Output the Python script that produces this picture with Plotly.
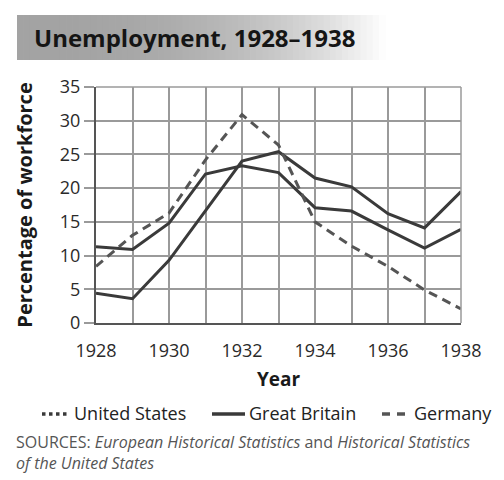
import plotly.graph_objects as go

years = [1928, 1929, 1930, 1931, 1932, 1933, 1934, 1935, 1936, 1937, 1938]
united_states = [4.4, 3.6, 9.3, 16.6, 24.0, 25.4, 21.5, 20.2, 16.2, 14.1, 19.5]
great_britain = [11.3, 10.9, 14.8, 22.1, 23.3, 22.3, 17.1, 16.6, 13.8, 11.1, 13.9]
germany = [8.4, 13.0, 16.3, 24.2, 30.9, 26.4, 15.0, 11.4, 8.4, 4.9, 2.1]

series_names = ["United States", "Great Britain", "Germany"]

# la page ajoute une marge de 8 px autour de la figure
OFF = 8
W, H = 504 - OFF, 480 - OFF
L, T = 96 - OFF, 87 - OFF
R, B = W - (461 - OFF), H - (323 - OFF)
pw, ph = W - L - R, H - T - B

def px(x):
    return (x - OFF - L) / pw

def py(y):
    return 1 - (y - OFF - T) / ph

FONT = "Open Sans"
line_col = "#3a3a3a"
ger_col = "#555555"
ger_dash = "9px,6px"

fig = go.Figure()

# US en trait plein dans le graphe, pointillé seulement dans la légende
fig.add_trace(go.Scatter(x=years, y=united_states, mode="lines", showlegend=False,
                         line=dict(color=line_col, width=3)))
fig.add_trace(go.Scatter(x=years, y=great_britain, mode="lines", showlegend=False,
                         line=dict(color=line_col, width=3)))
fig.add_trace(go.Scatter(x=years, y=germany, mode="lines", showlegend=False,
                         line=dict(color=ger_col, width=3, dash=ger_dash)))

# bandeau du titre en dégradé
x0, x1 = 17, 385
n = 60
for i in range(n):
    a = x0 + (x1 - x0) * i / n
    b = x0 + (x1 - x0) * (i + 1) / n
    t = (i + 0.5) / n
    c = int(163 + 92 * t ** 2.5)
    fig.add_shape(type="rect", xref="paper", yref="paper",
                  x0=px(a), x1=px(b) + 0.002, y0=py(60), y1=py(15),
                  fillcolor=f"rgb({c},{c},{c})", line=dict(width=0), layer="below")

fig.add_annotation(text="<b>Unemployment, 1928–1938</b>", xref="paper", yref="paper",
                   x=px(32), y=py(38), xanchor="left", yanchor="middle", showarrow=False,
                   font=dict(family=FONT, size=24, color="#151515"))

# légende faite à la main
leg_y = 413
leg_items = [
    (42, 70, dict(color=line_col, width=3.5, dash="dot")),
    (212, 245, dict(color=line_col, width=3.5)),
    (382, 410, dict(color=ger_col, width=3.5, dash="8px,7px")),
]
for name, (a, b, ln) in zip(series_names, leg_items):
    fig.add_shape(type="line", xref="paper", yref="paper",
                  x0=px(a), x1=px(b), y0=py(leg_y + 1), y1=py(leg_y + 1), line=ln)
    fig.add_annotation(text=name, xref="paper", yref="paper", x=px(b + 2), y=py(leg_y),
                       xanchor="left", yanchor="middle", showarrow=False,
                       font=dict(family=FONT, size=18, color="#222222"))

fig.add_annotation(text="SOURCES: <i>European Historical Statistics</i> and <i>Historical Statistics</i>"
                        "<br><i>of the United States</i>",
                   xref="paper", yref="paper", x=px(15), y=py(430), xanchor="left", yanchor="top",
                   align="left", showarrow=False, borderpad=0,
                   font=dict(family=FONT, size=16, color="#555555"))

fig.update_xaxes(range=[1928, 1938], tickvals=list(range(1928, 1939, 2)),
                 showgrid=True, gridcolor="#9a9a9a", gridwidth=1.5,
                 minor=dict(dtick=1, showgrid=True, gridcolor="#9a9a9a", gridwidth=1.5),
                 showline=True, linecolor="#555555", linewidth=2,
                 zeroline=False, ticks="", automargin=False, ticklabelstandoff=10,
                 tickfont=dict(family=FONT, size=18, color="#2a2a2a"),
                 title=dict(text="<b>Year</b>", font=dict(family=FONT, size=19, color="#1a1a1a"),
                            standoff=12))
fig.update_yaxes(range=[0, 35], dtick=5,
                 showgrid=True, gridcolor="#9a9a9a", gridwidth=1.5,
                 showline=True, linecolor="#555555", linewidth=2,
                 zeroline=False, ticks="outside", ticklen=10, tickcolor="#9a9a9a", tickwidth=1.5,
                 automargin=False,
                 tickfont=dict(family=FONT, size=18, color="#2a2a2a"),
                 title=dict(text="<b>Percentage of workforce</b>",
                            font=dict(family=FONT, size=20, color="#1a1a1a"), standoff=22))

# bordures haut / droite
fig.add_shape(type="line", xref="paper", yref="paper", x0=0, x1=1, y0=1, y1=1,
              line=dict(color="#9a9a9a", width=1.5))
fig.add_shape(type="line", xref="paper", yref="paper", x0=1, x1=1, y0=0, y1=1,
              line=dict(color="#9a9a9a", width=1.5))

fig.update_layout(
    width=W, height=H,
    margin=dict(l=L, r=R, t=T, b=B),
    plot_bgcolor="white", paper_bgcolor="white",
    showlegend=False,
)

fig.write_html("out.html")
